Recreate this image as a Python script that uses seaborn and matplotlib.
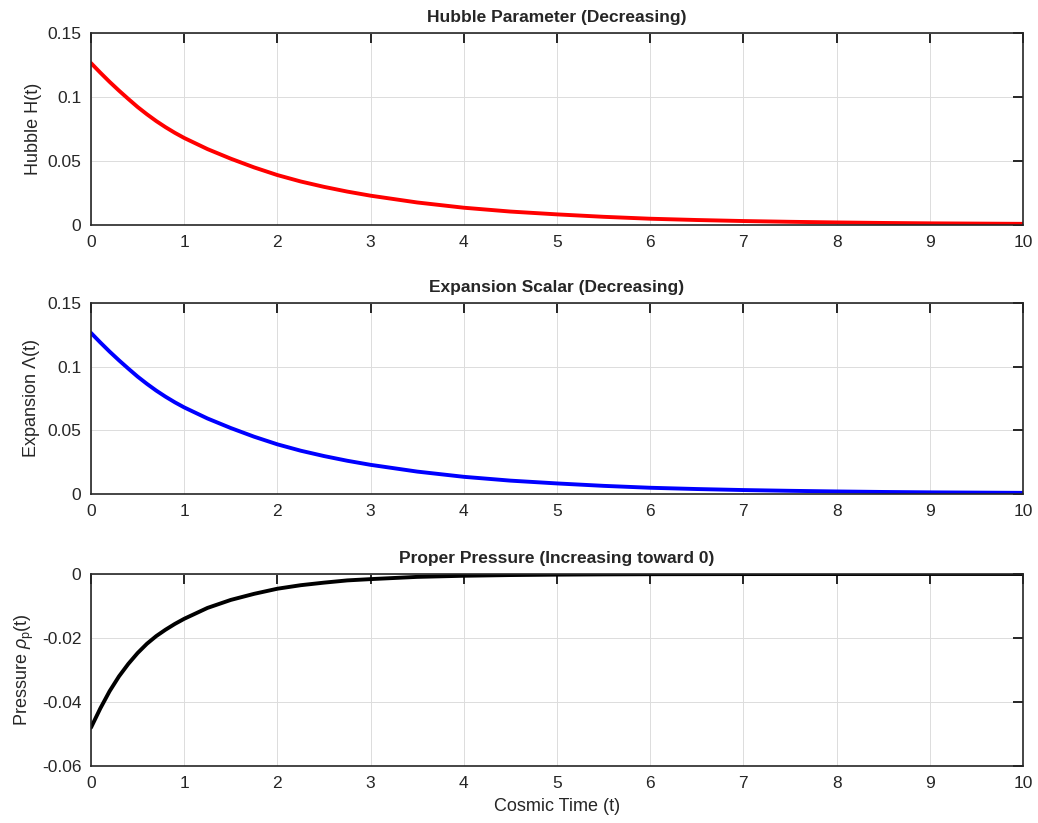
import numpy as np
import pandas as pd
import matplotlib
matplotlib.use("Agg")
import matplotlib.pyplot as plt
import seaborn as sns

# Data
t_vals = [0, 0.1, 0.2, 0.3, 0.4, 0.5, 0.6, 0.7, 0.8, 0.9, 1.0, 1.25, 1.5, 1.75,
          2.0, 2.25, 2.5, 2.75, 3.0, 3.5, 4.0, 4.5, 5.0, 5.5, 6.0, 6.5, 7.0, 7.5,
          8.0, 8.5, 9.0, 9.5, 10.0]
hubble = [0.1265, 0.1190, 0.1118, 0.1050, 0.0985, 0.0922, 0.0865, 0.0812, 0.0764,
          0.0720, 0.0680, 0.0593, 0.0518, 0.0450, 0.0390, 0.0340, 0.0298, 0.0261,
          0.0229, 0.0176, 0.0135, 0.0105, 0.0083, 0.0064, 0.0049, 0.0039, 0.0031,
          0.0025, 0.0020, 0.0016, 0.0013, 0.0011, 0.0009]
expansion = [0.1265, 0.1190, 0.1118, 0.1050, 0.0985, 0.0922, 0.0865, 0.0812, 0.0764,
             0.0720, 0.0680, 0.0593, 0.0518, 0.0450, 0.0390, 0.0340, 0.0298, 0.0261,
             0.0229, 0.0176, 0.0135, 0.0105, 0.0083, 0.0064, 0.0049, 0.0039, 0.0031,
             0.0025, 0.0020, 0.0016, 0.0013, 0.0011, 0.0009]
pressure = [-0.0480, -0.0420, -0.0366, -0.0320, -0.0281, -0.0247, -0.0218, -0.0194,
            -0.0174, -0.0156, -0.0140, -0.0106, -0.0081, -0.0062, -0.0046, -0.0035,
            -0.0027, -0.0020, -0.0016, -0.0009, -0.00055, -0.00033, -0.0002,
            -0.00012, -0.00007, -0.00005, -0.00003, -0.00002, -0.00001, -0.00001,
            0.0, 0.0, 0.0]

x_ticks = list(range(0, 11))
titles = ["Hubble Parameter (Decreasing)", "Expansion Scalar (Decreasing)",
          "Proper Pressure (Increasing toward 0)"]
ylabels = ["Hubble H(t)", r"Expansion $\mathit{\Lambda}$(t)", r"Pressure $\rho_{\mathrm{p}}$(t)"]
xlabel = "Cosmic Time (t)"

sns.set_theme(style="white")
plt.rcParams["font.family"] = ["Liberation Sans", "DejaVu Sans"]
plt.rcParams["mathtext.fontset"] = "custom"
plt.rcParams["mathtext.rm"] = "Liberation Sans"
plt.rcParams["mathtext.it"] = "Liberation Sans:italic"

df = pd.DataFrame({"t": t_vals, "H": hubble, "L": expansion, "P": pressure})

fig = plt.figure(figsize=(10.38, 8.23), dpi=100)
L, W = 91 / 1038, (1023 - 91) / 1038
pos = [(33, 225), (303, 494), (574, 766)]
axes = [fig.add_axes([L, 1 - b / 823, W, (b - t) / 823]) for t, b in pos]

specs = [("H", "#ff0000", (0, 0.15), [0, 0.05, 0.1, 0.15], ["0", "0.05", "0.1", "0.15"]),
         ("L", "#0000ff", (0, 0.15), [0, 0.05, 0.1, 0.15], ["0", "0.05", "0.1", "0.15"]),
         ("P", "#000000", (-0.06, 0), [-0.06, -0.04, -0.02, 0], ["-0.06", "-0.04", "-0.02", "0"])]

for ax, (col, color, ylim, yt, ytl), title, yl in zip(axes, specs, titles, ylabels):
    sns.lineplot(data=df, x="t", y=col, ax=ax, color=color, linewidth=2.8)
    ax.set_xlim(0, 10)
    ax.set_ylim(*ylim)
    ax.set_xticks(x_ticks)
    ax.set_xticklabels([str(v) for v in x_ticks])
    ax.set_yticks(yt)
    ax.set_yticklabels(ytl)
    ax.grid(True, color="#dcdcdc", linewidth=0.7)
    ax.set_axisbelow(True)
    for s in ax.spines.values():
        s.set_visible(True)
        s.set_color("#262626")
        s.set_linewidth(1.2)
    ax.tick_params(direction="in", length=7, width=1.4, top=True, right=True,
                   labelsize=12.5, colors="#262626", pad=7)
    ax.set_title(title, fontsize=12.5, fontweight="bold", pad=8)
    ax.set_ylabel(yl, fontsize=13, color="#262626")
    ax.set_xlabel("")

axes[2].set_xlabel(xlabel, fontsize=13, color="#262626", labelpad=5)

fig.savefig("out.png", dpi=100)
